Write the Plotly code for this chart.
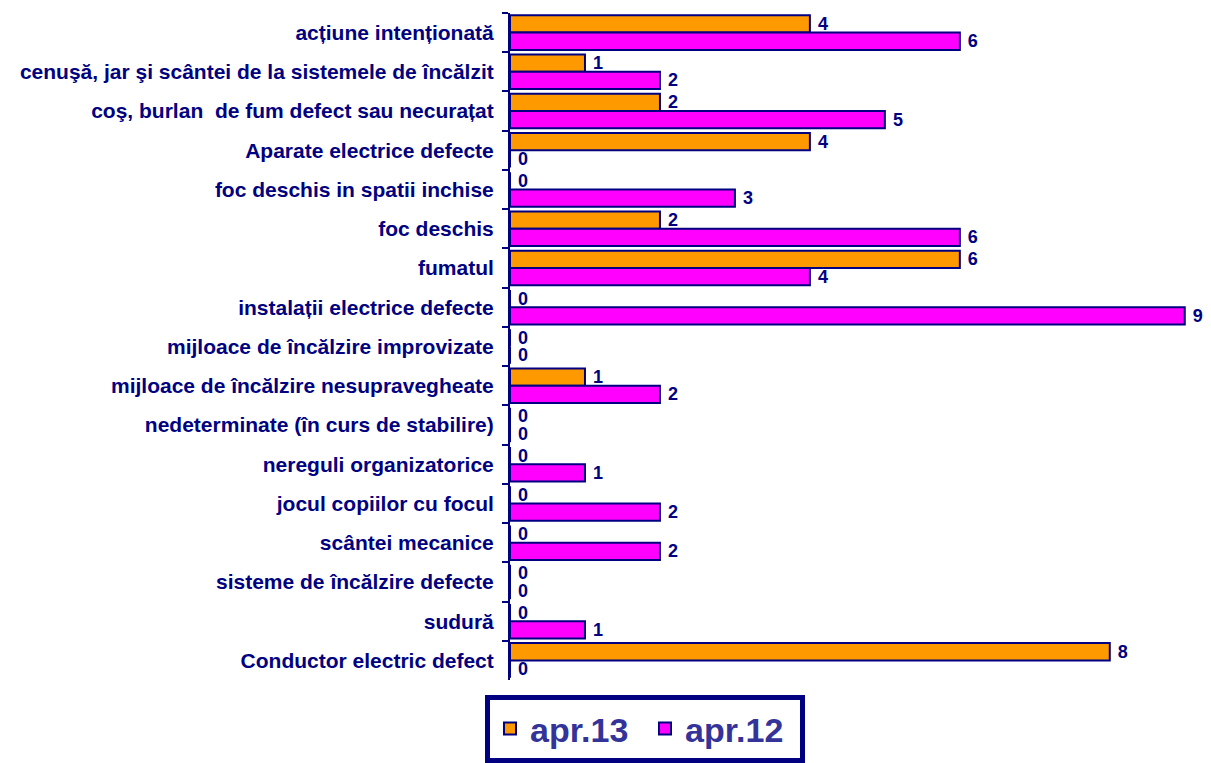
import plotly.graph_objects as go

categories = [
    "acțiune intenționată",
    "cenuşă, jar şi scântei de la sistemele de încălzit",
    "coş, burlan  de fum defect sau necurațat",
    "Aparate electrice defecte",
    "foc deschis in spatii inchise",
    "foc deschis",
    "fumatul",
    "instalații electrice defecte",
    "mijloace de încălzire improvizate",
    "mijloace de încălzire nesupravegheate",
    "nedeterminate (în curs de stabilire)",
    "nereguli organizatorice",
    "jocul copiilor cu focul",
    "scântei mecanice",
    "sisteme de încălzire defecte",
    "sudură",
    "Conductor electric defect",
]
apr13 = [4, 1, 2, 4, 0, 2, 6, 0, 0, 1, 0, 0, 0, 0, 0, 0, 8]
apr12 = [6, 2, 5, 0, 3, 6, 4, 9, 0, 2, 0, 1, 2, 2, 0, 1, 0]

NAVY = "#000080"
FONT = "Liberation Sans, Arial, sans-serif"

# the page body has an 8px margin; compensate so the figure fills the window
W, H = 1211 - 8, 763 - 8

fig = go.Figure()
for name, vals, color in [("apr.13", apr13, "#FF9900"), ("apr.12", apr12, "#FF00FF")]:
    fig.add_trace(go.Bar(
        name=name, y=categories, x=vals, orientation="h",
        marker=dict(color=color, line=dict(color=NAVY, width=2)),
        texttemplate=" %{x}", textposition="outside", constraintext="none",
        textfont=dict(family=FONT, size=18, color=NAVY, weight="bold"),
        cliponaxis=False,
    ))

fig.update_layout(
    width=W, height=H,
    barmode="group", bargap=0.12, bargroupgap=0,
    plot_bgcolor="white", paper_bgcolor="white",
    margin=dict(l=502, r=6, t=5, b=83),
    font=dict(family=FONT, color=NAVY),
    xaxis=dict(range=[0, 9.27], visible=False, showgrid=False, zeroline=False),
    yaxis=dict(
        autorange="reversed", showline=True, linecolor=NAVY, linewidth=2,
        ticks="outside", ticklen=6, tickcolor=NAVY, tickwidth=2,
        tickson="boundaries", showgrid=False,
        tickfont=dict(family=FONT, size=21, color=NAVY, weight="bold"),
        ticklabelstandoff=10,
    ),
    legend=dict(
        orientation="h", xref="container", yref="container",
        x=(485 - 8) / W, y=1 - (695 - 8) / H, xanchor="left", yanchor="top",
        bordercolor=NAVY, borderwidth=5, bgcolor="white",
        font=dict(family=FONT, size=34, color="#333399", weight="bold"),
        itemwidth=30, entrywidth=110, traceorder="normal",
    ),
)

fig.write_html("out.html")
